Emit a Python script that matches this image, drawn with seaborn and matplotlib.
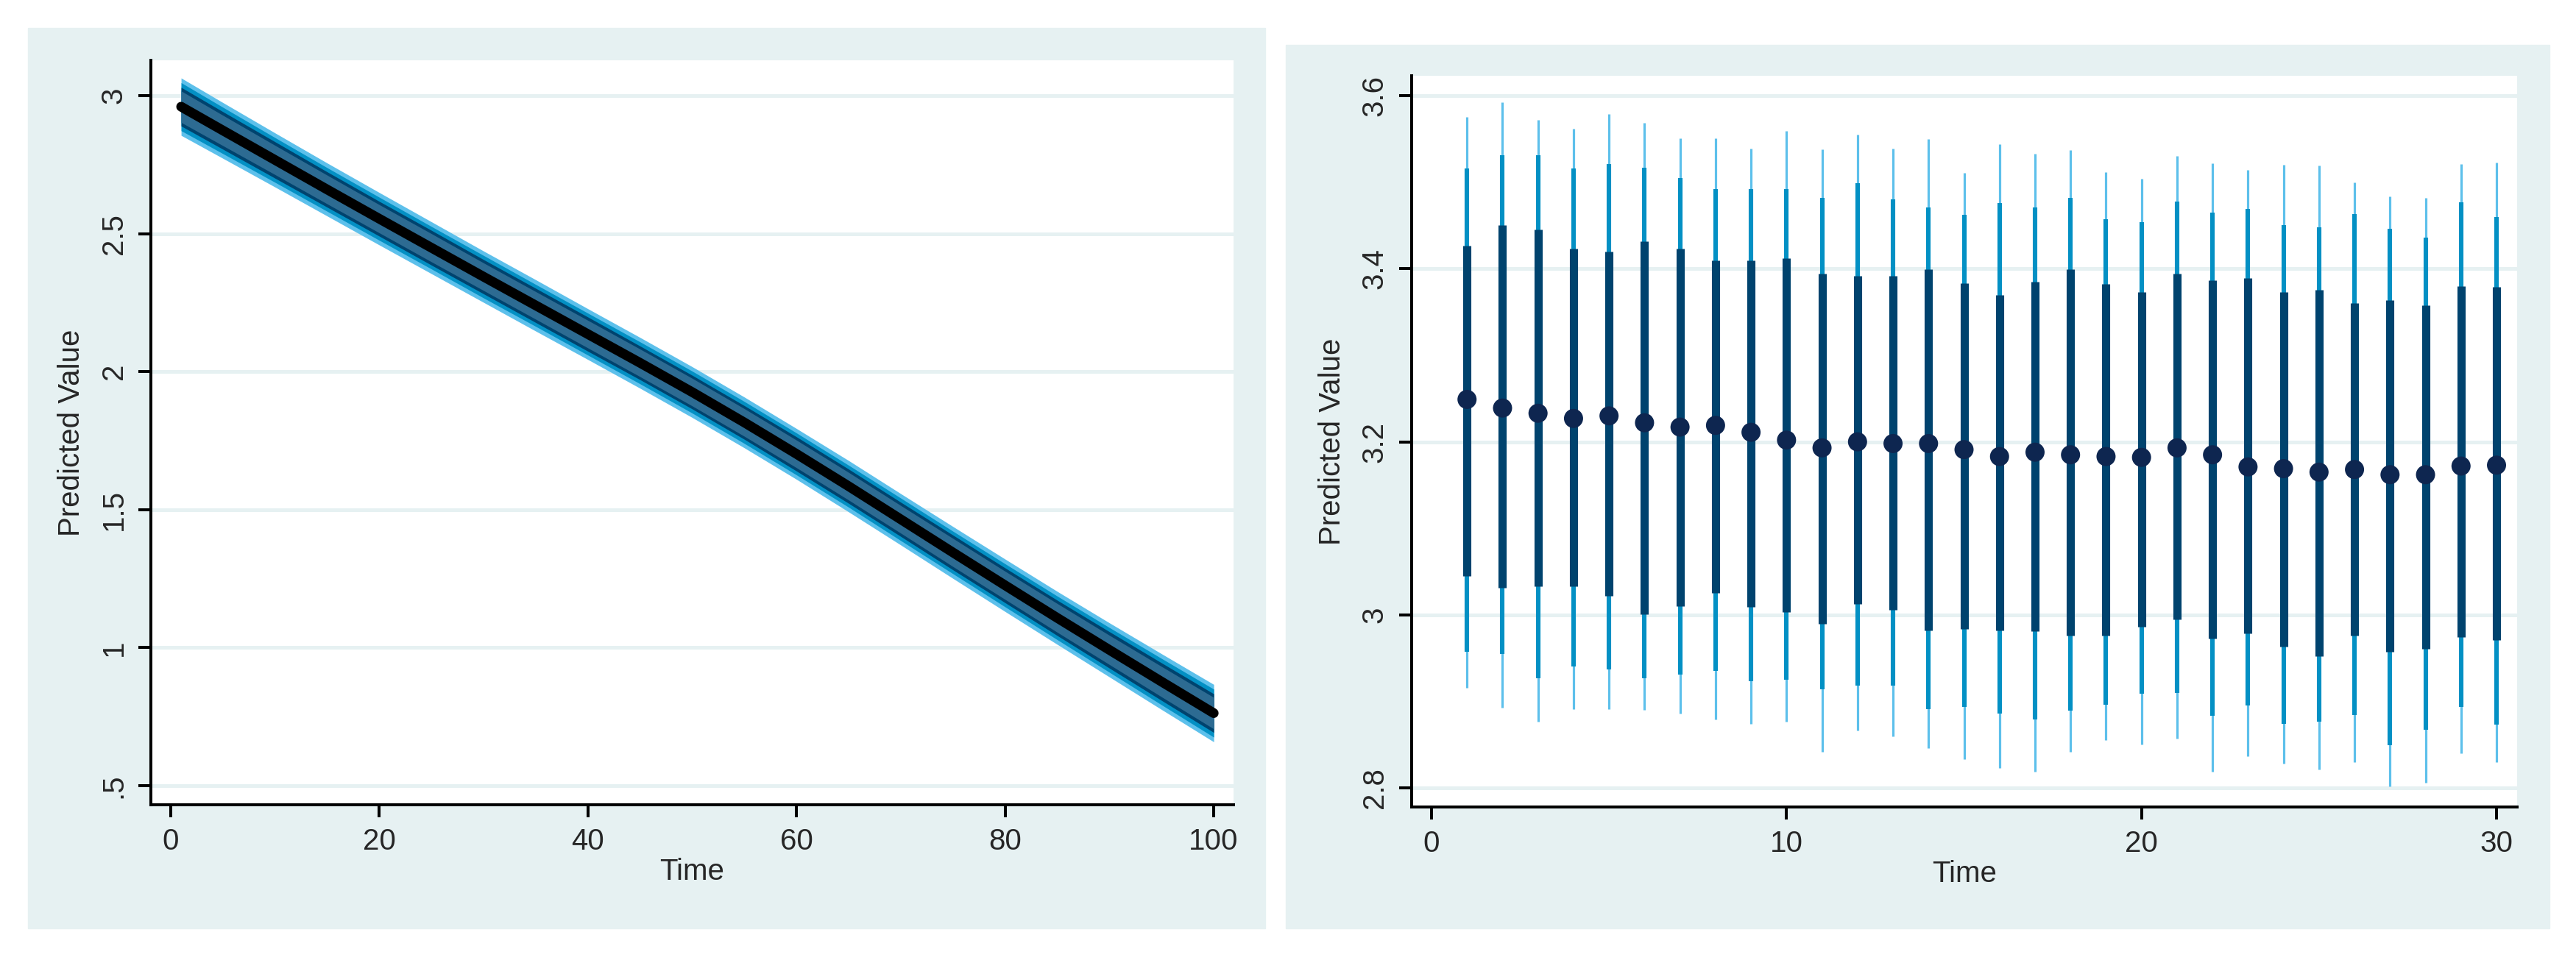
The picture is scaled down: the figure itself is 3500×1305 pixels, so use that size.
import numpy as np
import pandas as pd
import matplotlib
matplotlib.use("Agg")
import matplotlib.pyplot as plt
from matplotlib.patches import Rectangle
import seaborn as sns

sns.set_style("white")
plt.rcParams["font.family"] = ["Liberation Sans", "DejaVu Sans"]

# --- left panel: predicted line with nested bands ---
time_l = [1, 5, 10, 15, 20, 25, 30, 35, 40, 45, 50, 55, 60, 65, 70, 75, 80, 85, 90, 95, 100]
pred_l = [2.960, 2.874, 2.767, 2.660, 2.554, 2.449, 2.344, 2.240, 2.136, 2.032, 1.926,
          1.816, 1.702, 1.585, 1.465, 1.345, 1.226, 1.108, 0.992, 0.877, 0.763]
hw_light = [0.104, 0.101, 0.098, 0.096, 0.095, 0.094, 0.093, 0.093, 0.092, 0.092, 0.092,
            0.092, 0.092, 0.093, 0.093, 0.094, 0.095, 0.096, 0.098, 0.101, 0.104]
hw_mid = [0.087, 0.084, 0.081, 0.079, 0.078, 0.077, 0.077, 0.076, 0.076, 0.076, 0.076,
          0.076, 0.076, 0.076, 0.077, 0.077, 0.078, 0.079, 0.081, 0.084, 0.087]
hw_navy = [0.070, 0.068, 0.066, 0.064, 0.063, 0.063, 0.062, 0.062, 0.062, 0.061, 0.061,
           0.061, 0.062, 0.062, 0.062, 0.063, 0.063, 0.064, 0.066, 0.068, 0.070]
hw_steel = [0.057, 0.055, 0.053, 0.052, 0.051, 0.051, 0.050, 0.050, 0.050, 0.050, 0.050,
            0.050, 0.050, 0.050, 0.050, 0.051, 0.051, 0.052, 0.053, 0.055, 0.057]

# --- right panel: point estimates with three interval widths ---
time_r = list(range(1, 31))
pred_r = [3.249, 3.239, 3.233, 3.227, 3.230, 3.222, 3.217, 3.219, 3.211, 3.202,
          3.193, 3.200, 3.198, 3.198, 3.191, 3.183, 3.188, 3.185, 3.183, 3.182,
          3.193, 3.185, 3.171, 3.169, 3.165, 3.168, 3.162, 3.162, 3.172, 3.173]
thick_lo = [3.045, 3.031, 3.033, 3.033, 3.022, 3.001, 3.010, 3.025, 3.009, 3.003,
            2.990, 3.013, 3.006, 2.982, 2.984, 2.982, 2.981, 2.976, 2.976, 2.986,
            2.995, 2.973, 2.979, 2.963, 2.952, 2.976, 2.957, 2.961, 2.974, 2.971]
thick_hi = [3.427, 3.450, 3.445, 3.423, 3.420, 3.432, 3.423, 3.410, 3.410, 3.412,
            3.394, 3.392, 3.392, 3.399, 3.383, 3.370, 3.385, 3.399, 3.382, 3.373,
            3.394, 3.387, 3.389, 3.373, 3.376, 3.360, 3.364, 3.358, 3.380, 3.379]
mid_lo = [2.957, 2.955, 2.927, 2.940, 2.937, 2.927, 2.931, 2.935, 2.923, 2.925,
          2.914, 2.918, 2.918, 2.891, 2.894, 2.886, 2.879, 2.889, 2.896, 2.909,
          2.910, 2.883, 2.895, 2.874, 2.877, 2.884, 2.849, 2.867, 2.894, 2.873]
mid_hi = [3.516, 3.531, 3.531, 3.516, 3.521, 3.517, 3.505, 3.492, 3.492, 3.492,
          3.482, 3.499, 3.480, 3.471, 3.462, 3.476, 3.471, 3.482, 3.457, 3.454,
          3.478, 3.465, 3.469, 3.450, 3.448, 3.463, 3.446, 3.436, 3.477, 3.460]
thin_lo = [2.916, 2.893, 2.877, 2.891, 2.891, 2.890, 2.886, 2.879, 2.874, 2.877,
           2.842, 2.866, 2.860, 2.846, 2.833, 2.823, 2.819, 2.842, 2.855, 2.850,
           2.857, 2.819, 2.837, 2.828, 2.821, 2.830, 2.802, 2.806, 2.840, 2.830]
thin_hi = [3.575, 3.592, 3.572, 3.562, 3.579, 3.569, 3.551, 3.551, 3.539, 3.559,
           3.538, 3.555, 3.539, 3.550, 3.511, 3.544, 3.533, 3.537, 3.512, 3.504,
           3.530, 3.522, 3.514, 3.520, 3.519, 3.500, 3.484, 3.482, 3.521, 3.523]

left_yticks = [0.5, 1, 1.5, 2, 2.5, 3]
left_ylabels = [".5", "1", "1.5", "2", "2.5", "3"]
left_xticks = [0, 20, 40, 60, 80, 100]
right_yticks = [2.8, 3.0, 3.2, 3.4, 3.6]
right_ylabels = ["2.8", "3", "3.2", "3.4", "3.6"]
right_xticks = [0, 10, 20, 30]

BG = "#e6f1f2"
C_LIGHT = "#5dc0eb"
C_MID = "#0390c4"
C_NAVY = "#00436e"
C_STEEL = "#2d6b92"
C_DOT = "#0e2650"

df_l = pd.DataFrame({"Time": time_l, "pred": pred_l})
df_r = pd.DataFrame({"Time": time_r, "pred": pred_r})

fig = plt.figure(figsize=(35, 13.05), dpi=100, facecolor="white")

# stata-like graph region backgrounds
fig.patches.append(Rectangle((0.010857, 0.03295), 0.48029, 0.93793,
                             transform=fig.transFigure, color=BG, zorder=0))
fig.patches.append(Rectangle((0.49914, 0.03295), 0.49057, 0.92031,
                             transform=fig.transFigure, color=BG, zorder=0))

ax1 = fig.add_axes([0.05857, 0.16169, 0.42029, 0.77548])
ax2 = fig.add_axes([0.548, 0.15939, 0.42914, 0.76169])

# left panel
p = np.array(pred_l)
for hw, col in [(hw_light, C_LIGHT), (hw_mid, C_MID), (hw_navy, C_NAVY), (hw_steel, C_STEEL)]:
    ax1.fill_between(time_l, p - np.array(hw), p + np.array(hw), color=col, lw=0, zorder=2)
sns.lineplot(data=df_l, x="Time", y="pred", ax=ax1, color="black", lw=9.5,
             solid_capstyle="round", zorder=3)
ax1.set_xlim(-1.9, 101.9)
ax1.set_ylim(0.431, 3.128)
ax1.set_xticks(left_xticks)
ax1.set_yticks(left_yticks)
ax1.set_yticklabels(left_ylabels)

# right panel
ax2.vlines(time_r, thin_lo, thin_hi, color=C_LIGHT, lw=2.3, zorder=2)
ax2.vlines(time_r, mid_lo, mid_hi, color=C_MID, lw=4.4, zorder=3)
ax2.vlines(time_r, thick_lo, thick_hi, color=C_NAVY, lw=8, zorder=4)
sns.scatterplot(data=df_r, x="Time", y="pred", ax=ax2, color=C_DOT, s=350,
                edgecolor="none", zorder=5)
ax2.set_xlim(-0.56, 30.58)
ax2.set_ylim(2.778, 3.623)
ax2.set_xticks(right_xticks)
ax2.set_yticks(right_yticks)
ax2.set_yticklabels(right_ylabels)

for ax in (ax1, ax2):
    ax.set_facecolor("white")
    ax.set_zorder(1)
    for y in ax.get_yticks():
        ax.axhline(y, color=BG, lw=3.6, zorder=1)
    for s in ["top", "right"]:
        ax.spines[s].set_visible(False)
    for s in ["left", "bottom"]:
        ax.spines[s].set_color("black")
        ax.spines[s].set_linewidth(2.9)
    ax.tick_params(axis="both", direction="out", length=12.5, width=2.9,
                   color="black", labelsize=29, pad=10, left=True, bottom=True)
    for lab in ax.get_yticklabels():
        lab.set_rotation(90)
        lab.set_va("center")
    ax.set_xlabel("Time", fontsize=29, labelpad=2)
    ax.set_ylabel("Predicted Value", fontsize=29, labelpad=14)

fig.savefig("out.png", dpi=100, facecolor="white")
